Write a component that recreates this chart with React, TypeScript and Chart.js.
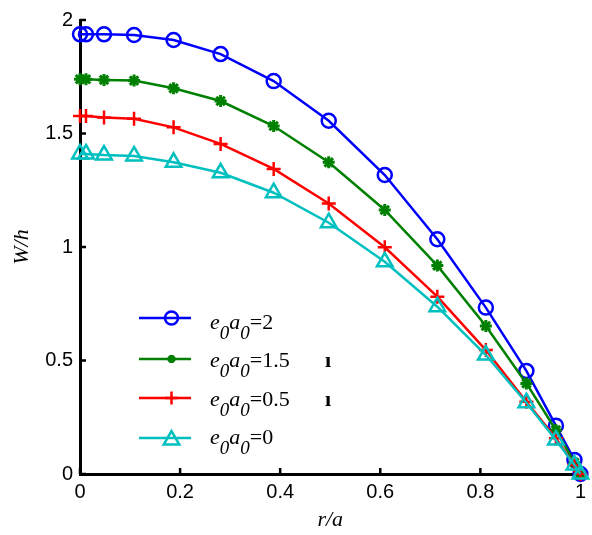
import React, { useEffect, useRef } from 'react';
import { Chart, registerables } from 'chart.js';

Chart.register(...registerables);

// r/a positions of the computed points
const rOverA = [0, 0.012, 0.048, 0.108, 0.187, 0.281, 0.387, 0.497, 0.609, 0.714, 0.811, 0.892, 0.951, 0.988, 1.0];

// W/h for each nonlocal parameter e0a0
const wE2 = [1.937, 1.937, 1.937, 1.934, 1.912, 1.85, 1.731, 1.556, 1.317, 1.034, 0.733, 0.454, 0.213, 0.062, 0];
const wE15 = [1.739, 1.739, 1.736, 1.733, 1.699, 1.643, 1.533, 1.373, 1.163, 0.918, 0.652, 0.399, 0.194, 0.05, 0];
const wE05 = [1.577, 1.577, 1.57, 1.565, 1.527, 1.454, 1.344, 1.192, 0.999, 0.781, 0.546, 0.318, 0.157, 0.04, 0];
const wE0 = [1.41, 1.41, 1.405, 1.401, 1.373, 1.327, 1.239, 1.107, 0.935, 0.737, 0.524, 0.314, 0.15, 0.04, 0];

const seriesValues = ['2', '1.5', '0.5', '0'];
const seriesData = [wE2, wE15, wE05, wE0];
const seriesColors = ['#0000ff', '#008000', '#ff0000', '#00bfbf'];
const seriesStyles = ['circle', 'star', 'cross', 'triangle'];
const seriesRadius = [7, 6, 7, 9];

const xTickValues = [0, 0.2, 0.4, 0.6, 0.8, 1];
const yTickValues = [0, 0.5, 1, 1.5, 2];

const fmt = (v: number) => String(parseFloat(Number(v).toFixed(2)));

function drawMarker(ctx: CanvasRenderingContext2D, style: string, x: number, y: number, r: number) {
  ctx.beginPath();
  if (style === 'circle') {
    ctx.arc(x, y, r, 0, Math.PI * 2);
  } else if (style === 'cross') {
    ctx.moveTo(x - r, y); ctx.lineTo(x + r, y);
    ctx.moveTo(x, y - r); ctx.lineTo(x, y + r);
  } else if (style === 'star') {
    ctx.moveTo(x - r, y); ctx.lineTo(x + r, y);
    ctx.moveTo(x, y - r); ctx.lineTo(x, y + r);
    const d = r * Math.SQRT1_2;
    ctx.moveTo(x - d, y - d); ctx.lineTo(x + d, y + d);
    ctx.moveTo(x - d, y + d); ctx.lineTo(x + d, y - d);
  } else if (style === 'triangle') {
    for (let i = 0; i < 3; i++) {
      const a = -Math.PI / 2 + (i * 2 * Math.PI) / 3;
      const px = x + Math.cos(a) * r;
      const py = y + Math.sin(a) * r;
      if (i === 0) ctx.moveTo(px, py); else ctx.lineTo(px, py);
    }
    ctx.closePath();
  }
  ctx.stroke();
}

const inwardTicks = {
  id: 'inwardTicks',
  beforeDatasetsDraw(chart: any) {
    const { ctx, chartArea, scales } = chart;
    ctx.save();
    ctx.strokeStyle = '#000';
    ctx.lineWidth = 2.5;
    ctx.beginPath();
    scales.x.ticks.forEach((t: any) => {
      const px = scales.x.getPixelForValue(t.value);
      ctx.moveTo(px, chartArea.bottom);
      ctx.lineTo(px, chartArea.bottom - 6);
    });
    scales.y.ticks.forEach((t: any) => {
      const py = scales.y.getPixelForValue(t.value);
      ctx.moveTo(chartArea.left, py);
      ctx.lineTo(chartArea.left + 6, py);
    });
    ctx.stroke();
    ctx.restore();
  },
};

const legendRowsLine = [318, 359, 398, 438];
const legendRowsText = [329, 367, 405.5, 444];

const customLegend = {
  id: 'customLegend',
  afterDraw(chart: any) {
    const { ctx } = chart;
    ctx.save();
    seriesValues.forEach((val, i) => {
      const ly = legendRowsLine[i];
      ctx.strokeStyle = seriesColors[i];
      ctx.lineWidth = 2.5;
      ctx.beginPath();
      ctx.moveTo(139, ly);
      ctx.lineTo(191, ly);
      ctx.stroke();
      const st = seriesStyles[i];
      const r = st === 'star' ? 4 : st === 'triangle' ? 9 : 6.5;
      ctx.lineWidth = st === 'star' ? 3 : 2.5;
      drawMarker(ctx, st, 171.5, st === 'triangle' ? ly + 2 : ly, r);

      const by = legendRowsText[i];
      ctx.fillStyle = '#000';
      ctx.textBaseline = 'alphabetic';
      ctx.textAlign = 'left';
      let x = 210;
      const main = 'italic 22px "Liberation Serif"';
      const sub = 'italic 19px "Liberation Serif"';
      ctx.font = main; ctx.fillText('e', x, by); x += ctx.measureText('e').width;
      ctx.font = sub; ctx.fillText('0', x, by + 10); x += ctx.measureText('0').width;
      ctx.font = main; ctx.fillText('a', x, by); x += ctx.measureText('a').width;
      ctx.font = sub; ctx.fillText('0', x, by + 10); x += ctx.measureText('0').width;
      ctx.font = '22px "Liberation Serif"';
      ctx.fillText('=' + val, x, by);
    });
    ctx.font = 'bold 22px "Liberation Serif"';
    ctx.fillText('ı', 325, 367);
    ctx.fillText('ı', 325, 406);
    ctx.restore();
  },
};

export default function App() {
  const ref = useRef<HTMLCanvasElement | null>(null);
  useEffect(() => {
    document.body.style.margin = '0';
    const canvas = ref.current;
    if (!canvas) return;
    const order = [4, 3, 2, 1];
    const chart = new Chart(canvas, {
      type: 'line',
      data: {
        datasets: seriesData.map((arr, i) => ({
          label: 'e0a0=' + seriesValues[i],
          data: arr.map((y, k) => ({ x: rOverA[k], y })),
          borderColor: seriesColors[i],
          backgroundColor: 'rgba(0,0,0,0)',
          pointBorderColor: seriesColors[i],
          pointBackgroundColor: 'rgba(0,0,0,0)',
          pointStyle: seriesStyles[i] as any,
          pointRadius: seriesRadius[i],
          pointBorderWidth: seriesStyles[i] === 'star' ? 3 : 2.5,
          borderWidth: 2.5,
          tension: 0,
          clip: false as any,
          order: order[i],
        })),
      },
      plugins: [inwardTicks, customLegend],
      options: {
        animation: false,
        responsive: true,
        maintainAspectRatio: false,
        layout: { padding: { top: 20, right: 10, left: 0, bottom: 0 } },
        plugins: { legend: { display: false }, tooltip: { enabled: false } },
        scales: {
          x: {
            type: 'linear',
            min: 0,
            max: 1,
            afterBuildTicks: (s: any) => { s.ticks = xTickValues.map((v) => ({ value: v })); },
            ticks: {
              stepSize: 0.2,
              color: '#000',
              padding: 6,
              maxRotation: 0,
              font: { family: 'Liberation Sans', size: 20 },
              callback: (v: any) => fmt(v),
            },
            grid: { display: false, drawTicks: false },
            border: { display: true, color: '#000', width: 3 },
            title: {
              display: true,
              text: 'r/a',
              color: '#000',
              font: { family: 'Liberation Serif', style: 'italic', size: 22 },
              padding: { top: 0, bottom: 2 },
            },
            afterFit: (s: any) => { s.height = 61; },
          },
          y: {
            type: 'linear',
            min: 0,
            max: 2,
            afterBuildTicks: (s: any) => { s.ticks = yTickValues.map((v) => ({ value: v })); },
            ticks: {
              stepSize: 0.5,
              color: '#000',
              padding: 7,
              font: { family: 'Liberation Sans', size: 20 },
              callback: (v: any) => fmt(v),
            },
            grid: { display: false, drawTicks: false },
            border: { display: true, color: '#000', width: 3 },
            title: {
              display: true,
              text: 'W/h',
              color: '#000',
              font: { family: 'Liberation Serif', style: 'italic', size: 22 },
              padding: { top: 9, bottom: 0 },
            },
            afterFit: (s: any) => { s.width = 80; },
          },
        },
      } as any,
    });
    return () => chart.destroy();
  }, []);
  return (
    <div style={{ position: 'fixed', left: 0, top: 0, width: 592, height: 535, background: '#fff' }}>
      <canvas ref={ref} />
    </div>
  );
}
